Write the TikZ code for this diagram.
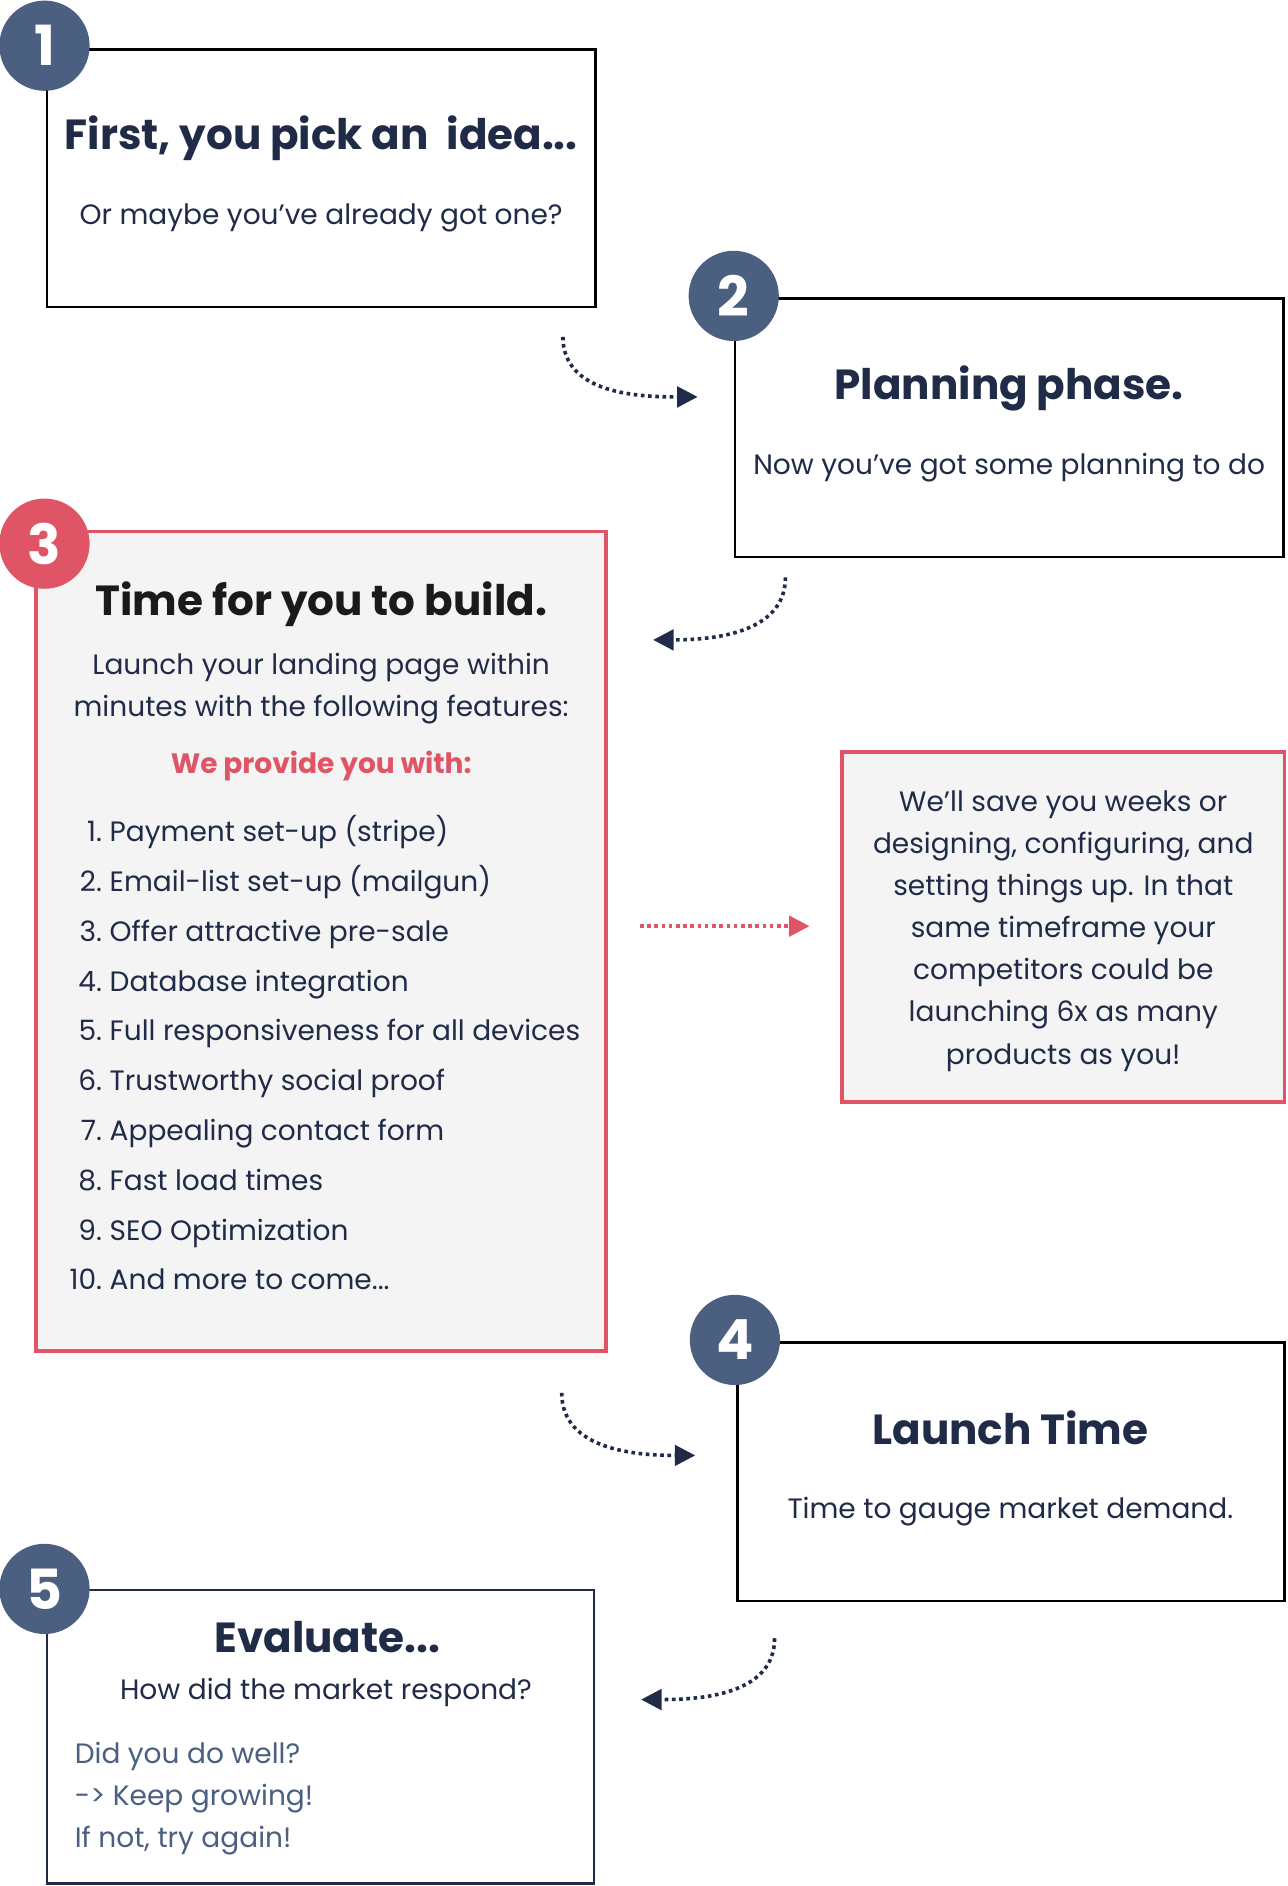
\documentclass[tikz,border=0pt]{standalone}
\usepackage{fontspec}
\setmainfont{Poppins}
\usetikzlibrary{arrows.meta}

\definecolor{navy}{RGB}{31,43,71}
\definecolor{slate}{RGB}{75,95,128}
\definecolor{rosered}{RGB}{224,85,102}
\definecolor{panel}{RGB}{244,244,244}
\definecolor{inkblack}{RGB}{26,26,26}
\newcommand\trail{...}

\tikzset{x=1pt, y=1pt}
\tikzset{
  stepbox/.style={draw=black, line width=2pt, fill=white, inner sep=0pt},
  redbox/.style={draw=rosered, line width=3pt, fill=panel, inner sep=0pt},
  badge/.style={circle, fill=#1, minimum size=75pt, inner sep=0pt, text=white,
    font=\fontsize{46}{46}\selectfont\bfseries},
  headline/.style={text=navy, font=\fontsize{35}{42}\selectfont\bfseries},
  bodytext/.style={text=navy, font=\fontsize{23.3}{35}\selectfont, align=center},
  flow/.style={navy, line width=3pt, dash pattern=on 3pt off 3pt,
    -{Triangle[length=17pt,width=17pt]}},
}

\begin{document}
\begin{tikzpicture}
\useasboundingbox (0,0) rectangle (1070,-1568);

% boxes
\node[stepbox, minimum width=456pt, minimum height=214pt] (box1) at (267,-148) {};
\node[stepbox, minimum width=456pt, minimum height=215pt] (box2) at (839,-355.5) {};
\node[redbox, minimum width=474pt, minimum height=681pt] (box3) at (267,-782.5) {};
\node[redbox, minimum width=368pt, minimum height=291pt] (side) at (884,-770.5) {};
\node[stepbox, minimum width=455pt, minimum height=215pt] (box4) at (840.5,-1223.5) {};
\node[stepbox, draw=navy, minimum width=455pt, minimum height=244pt] (box5) at (266.5,-1444) {};

% numbers
\node[badge=slate] (n1) at (37,-38) {1};
\node[badge=slate] (n2) at (610,-246) {2};
\node[badge=rosered] (n3) at (37,-452) {3};
\node[badge=slate] (n4) at (611,-1114) {4};
\node[badge=slate] (n5) at (37,-1321) {5};

% step 1
\node[headline] (t1) at (267,-115) {First, you pick an\ \ idea\trail};
\node[bodytext] (s1) at (267,-181) {Or maybe you’ve already got one?};

% step 2
\node[headline] (t2) at (839,-323) {Planning phase.};
\node[bodytext] (s2) at (839,-389) {Now you’ve got some planning to do};

% step 3
\node[headline, text=inkblack] (t3) at (267,-502.5) {Time for you to build.};
\node[bodytext] (s3) at (267,-572.5) {Launch your landing page within\\minutes with the following features:};
\node[headline, text=rosered, font=\fontsize{23.3}{30}\selectfont\bfseries] (w3) at (267,-637) {We provide you with:};
\foreach \n/\t in {1/Payment set-up (stripe), 2/Email-list set-up (mailgun),
  3/Offer attractive pre-sale, 4/Database integration,
  5/Full responsiveness for all devices, 6/Trustworthy social proof,
  7/Appealing contact form, 8/Fast load times, 9/SEO Optimization,
  10/And more to come\trail}
{
  \node[bodytext, inner sep=0pt, anchor=mid east] (num\n) at (85,{-697-(\n-1)*41.4}) {\n.};
  \node[bodytext, inner sep=0pt, anchor=mid west] (item\n) at (91,{-697-(\n-1)*41.4}) {\t};
}

% side note
\node[bodytext] (note) at (884,-774) {We’ll save you weeks or\\designing, configuring, and\\setting things up. In that\\same timeframe your\\competitors could be\\launching 6x as many\\products as you!};

% step 4
\node[headline] (t4) at (840,-1187) {Launch Time};
\node[bodytext] (s4) at (840,-1257) {Time to gauge market demand.};

% step 5
\node[headline] (t5) at (272,-1361) {Evaluate\trail};
\node[bodytext] (s5) at (271,-1407) {How did the market respond?};
\node[bodytext, text=slate, align=left, anchor=west, inner sep=0pt] (r5) at (62,-1495) {Did you do well?\\-> Keep growing!\\If not, try again!};

% arrows
\coordinate (a1) at (468,-280);
\coordinate (b1) at (580,-330);
\coordinate (a2) at (653,-480);
\coordinate (b2) at (543,-532);
\coordinate (a3) at (467,-1158);
\coordinate (b3) at (578,-1210);
\coordinate (a4) at (644,-1362);
\coordinate (b4) at (533,-1413);
\coordinate (ar) at (532,-770);
\coordinate (br) at (673,-770);
\draw[flow] (a1) to[out=-90,in=180] (b1);
\draw[flow] (a2) to[out=-90,in=0] (b2);
\draw[flow] (a3) to[out=-90,in=180] (b3);
\draw[flow] (a4) to[out=-90,in=0] (b4);
\draw[flow, rosered] (ar) -- (br);
\end{tikzpicture}
\end{document}
